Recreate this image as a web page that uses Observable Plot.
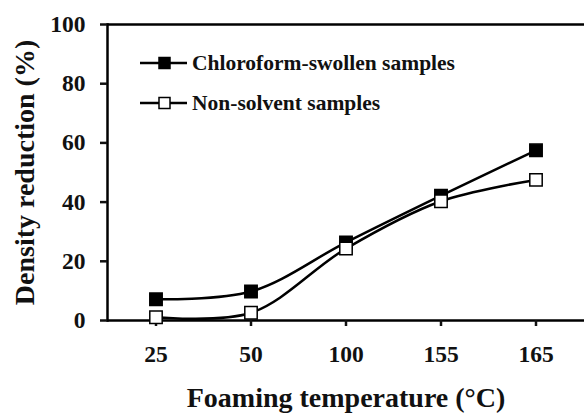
<!DOCTYPE html>
<html>
<head>
<meta charset="utf-8">
<script src="https://cdn.jsdelivr.net/npm/d3@7"></script>
<script src="https://cdn.jsdelivr.net/npm/@observablehq/plot@0.6"></script>
</head>
<body style="margin:0;padding:0;background:#fff">
<div id="wrap" style="position:relative;width:584px;height:413px;overflow:hidden"></div>
<script>
const temps = ["25", "50", "100", "155", "165"];
const chloroform = [7.2, 9.8, 26.4, 42.2, 57.5];
const nonSolvent = [1.1, 2.6, 24.3, 40.3, 47.5];
const seriesNames = ["Chloroform-swollen samples", "Non-solvent samples"];
const seriesFills = ["black", "white"];
const yTicks = [0, 20, 40, 60, 80, 100];
const xLabel = "Foaming temperature (°C)";
const yLabel = "Density reduction (%)";

const rowsC = temps.map((t, i) => ({t, v: chloroform[i]}));
const rowsN = temps.map((t, i) => ({t, v: nonSolvent[i]}));

const font = "\"Liberation Serif\", serif";

const chart = Plot.plot({
  width: 584,
  height: 413,
  marginLeft: 107,
  marginRight: 0,
  marginTop: 24,
  marginBottom: 93,
  style: {fontFamily: font, background: "white", color: "#111", overflow: "visible"},
  x: {type: "band", domain: temps, padding: 0},
  y: {domain: [0, 100]},
  marks: [
    Plot.ruleY([0, 100], {stroke: "black", strokeWidth: 2.5}),
    Plot.frame({anchor: "left", stroke: "black", strokeWidth: 2.5}),
    Plot.axisY({ticks: yTicks, tickSize: 7, tickPadding: 15, tickFormat: d => d, fontSize: 23.5, fontWeight: "bold",
      strokeWidth: 2.5, label: null}),
    Plot.axisX({tickSize: 6, tickPadding: 19, fontSize: 23.5, fontWeight: "bold", strokeWidth: 2.5, label: null}),
    Plot.text([yLabel], {text: d => d, frameAnchor: "left", dx: -82, rotate: -90, textAnchor: "middle", lineAnchor: "middle",
      fontSize: 28, fontWeight: "bold", fill: "#111"}),
    Plot.text([xLabel], {text: d => d, frameAnchor: "bottom", dy: 78, textAnchor: "middle", lineAnchor: "middle",
      fontSize: 28, fontWeight: "bold", fill: "#111"}),
    Plot.line(rowsC, {x: "t", y: "v", curve: "catmull-rom", stroke: "black", strokeWidth: 2.5}),
    Plot.dot(rowsC, {x: "t", y: "v", symbol: "square", r: 7, fill: seriesFills[0], stroke: "black", strokeWidth: 1.5}),
    Plot.line(rowsN, {x: "t", y: "v", curve: "catmull-rom", stroke: "black", strokeWidth: 2.5}),
    Plot.dot(rowsN, {x: "t", y: "v", symbol: "square", r: 7, fill: seriesFills[1], stroke: "black", strokeWidth: 1.5})
  ]
});

const wrap = document.getElementById("wrap");
wrap.appendChild(chart);

// legend
const legend = document.createElement("div");
legend.style.position = "absolute";
legend.style.left = "138px";
legend.style.top = "43px";
legend.style.fontFamily = font;
legend.style.fontSize = "21.5px";
legend.style.fontWeight = "bold";
legend.style.color = "#111";
seriesNames.forEach((name, i) => {
  const row = document.createElement("div");
  row.style.cssText = "display:flex;align-items:center;height:40px;";
  const svg = d3.create("svg").attr("width", 52).attr("height", 20);
  svg.append("line").attr("x1", 2).attr("x2", 49).attr("y1", 10).attr("y2", 10)
    .attr("stroke", "black").attr("stroke-width", 2.5);
  svg.append("rect").attr("x", 21).attr("y", 4.5).attr("width", 11).attr("height", 11)
    .attr("fill", seriesFills[i]).attr("stroke", "black").attr("stroke-width", 1.5);
  row.appendChild(svg.node());
  const span = document.createElement("span");
  span.style.marginLeft = "2px";
  span.textContent = name;
  row.appendChild(span);
  legend.appendChild(row);
});
wrap.appendChild(legend);
</script>
</body>
</html>
